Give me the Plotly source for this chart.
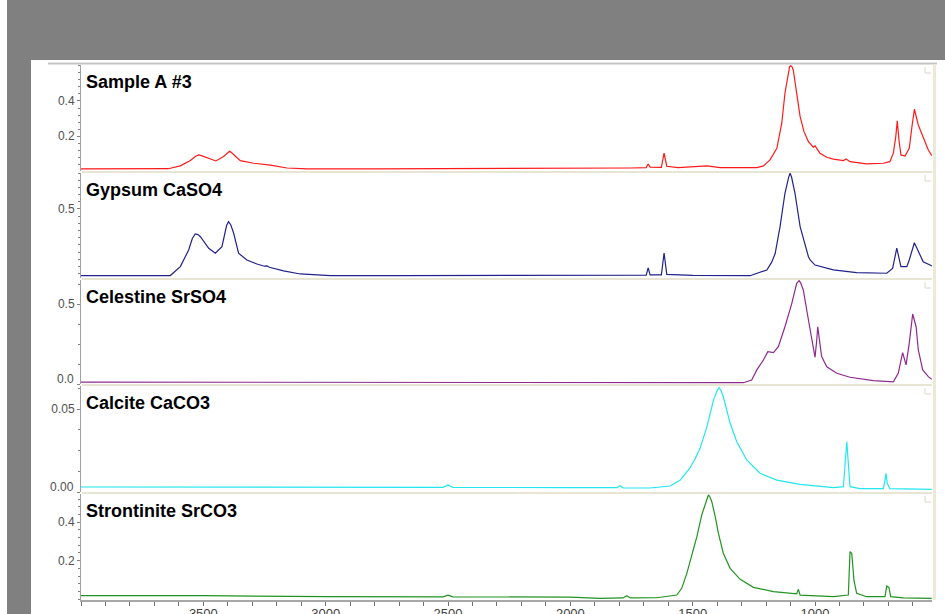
import plotly.graph_objects as go

# ---------------- data ----------------
names = ["Sample A #3", "Gypsum CaSO4", "Celestine SrSO4", "Calcite CaCO3", "Strontinite SrCO3"]
colors = ["#ff1a1a", "#22228c", "#8e2a8e", "#22e6f0", "#229322"]

sample_wn = [4000, 3800, 3643, 3594, 3553, 3530, 3519, 3505, 3485, 3449, 3417, 3400, 3393, 3385,
             3369, 3349, 3294, 3226, 3158, 3077, 2800, 2500, 2200, 1900,
             1750, 1690, 1682, 1674, 1628, 1617, 1606, 1560, 1470, 1442,
             1388, 1238, 1211, 1184, 1156, 1136, 1123, 1109, 1104, 1099, 1094, 1089,
             1075, 1061, 1045, 1027, 1007, 1000, 980, 952, 925, 884,
             873, 857, 789, 721, 694, 680, 670, 664, 657, 649,
             632, 615, 604, 594, 578, 558, 537, 523]
sample_ab = [0.015, 0.015, 0.016, 0.032, 0.062, 0.088, 0.094, 0.089, 0.079, 0.060, 0.085, 0.110, 0.115, 0.108,
             0.085, 0.062, 0.047, 0.036, 0.020, 0.015, 0.015, 0.016, 0.015, 0.017,
             0.020, 0.022, 0.043, 0.025, 0.024, 0.105, 0.030, 0.022, 0.028, 0.032,
             0.022, 0.022, 0.032, 0.066, 0.132, 0.274, 0.444, 0.576, 0.595, 0.600, 0.594, 0.576,
             0.444, 0.311, 0.226, 0.169, 0.138, 0.145, 0.104, 0.081, 0.070, 0.062,
             0.071, 0.056, 0.043, 0.047, 0.056, 0.104, 0.198, 0.287, 0.179, 0.094,
             0.088, 0.132, 0.254, 0.353, 0.264, 0.189, 0.122, 0.090]

gypsum_wn = [4000, 3800, 3635, 3594, 3560, 3545, 3533, 3522, 3512, 3478, 3451, 3424,
             3405, 3397, 3388, 3376, 3356, 3322, 3281, 3250, 3240, 3230, 3172, 3104,
             2981, 2700, 2400, 2100, 1800, 1690, 1682, 1674, 1628, 1617,
             1606, 1500, 1266, 1197, 1177, 1163, 1143, 1123, 1108, 1102, 1096, 1082,
             1061, 1027, 1020, 1000, 925, 830, 707, 683, 666, 657,
             649, 625, 615, 594, 578, 558, 530, 523]
gypsum_ab = [0.036, 0.036, 0.037, 0.099, 0.215, 0.295, 0.326, 0.322, 0.307, 0.227, 0.192, 0.238,
             0.385, 0.412, 0.390, 0.331, 0.192, 0.145, 0.117, 0.102, 0.104, 0.095, 0.069, 0.048,
             0.037, 0.036, 0.037, 0.036, 0.037, 0.040, 0.090, 0.042, 0.042, 0.194,
             0.045, 0.038, 0.036, 0.076, 0.130, 0.190, 0.377, 0.609, 0.720, 0.748, 0.722, 0.609,
             0.377, 0.168, 0.145, 0.110, 0.076, 0.057, 0.053, 0.087, 0.227, 0.145,
             0.099, 0.099, 0.145, 0.265, 0.203, 0.133, 0.110, 0.103]

celestine_wn = [4000, 3500, 3000, 2500, 2000, 1500, 1293, 1259, 1238, 1211,
                1193, 1170, 1150, 1123, 1095, 1075, 1070, 1065, 1059, 1048, 1027, 1007,
                1000, 993, 989, 982, 973, 952, 911, 857, 762, 680,
                660, 642, 628, 615, 601, 587, 578, 560, 537, 523]
celestine_ab = [0.012, 0.012, 0.011, 0.012, 0.011, 0.010, 0.008, 0.025, 0.088, 0.150,
                0.202, 0.196, 0.233, 0.358, 0.504, 0.629, 0.641, 0.646, 0.632, 0.588, 0.400, 0.2125,
                0.167, 0.275, 0.358, 0.275, 0.171, 0.108, 0.067, 0.042, 0.021, 0.014,
                0.067, 0.196, 0.119, 0.254, 0.4375, 0.358, 0.2125, 0.0875, 0.046, 0.029]

calcite_wn = [4000, 3500, 3000, 2520, 2500, 2480, 2000, 1810, 1797, 1785,
              1674, 1592, 1551, 1511, 1490, 1470, 1442, 1415, 1400, 1392, 1385, 1375,
              1347, 1320, 1279, 1225, 1156, 1061, 925, 884, 876, 870,
              865, 857, 816, 721, 714, 710, 705, 694, 523]
calcite_ab = [0.0030, 0.0030, 0.0028, 0.0028, 0.0042, 0.0028, 0.0026, 0.0026, 0.0038, 0.0025,
              0.0024, 0.0036, 0.0072, 0.0145, 0.0200, 0.0263, 0.0393, 0.0554, 0.0612, 0.0628, 0.0615, 0.0574,
              0.0414, 0.0303, 0.0193, 0.0113, 0.0072, 0.0046, 0.0026, 0.0032, 0.0193, 0.0303,
              0.0193, 0.0032, 0.0020, 0.0020, 0.0072, 0.0113, 0.0052, 0.0020, 0.0016]

stront_wn = [4000, 3500, 3000, 2520, 2500, 2480, 2000, 1878, 1785, 1769,
             1755, 1647, 1565, 1545, 1524, 1504, 1483, 1463, 1445, 1441, 1436, 1430,
             1422, 1408, 1395, 1375, 1347, 1306, 1252, 1170, 1075, 1068,
             1061, 925, 864, 857, 850, 841, 830, 789, 714, 707,
             698, 691, 639, 523]
stront_ab = [0.018, 0.018, 0.013, 0.012, 0.020, 0.012, 0.010, 0.004, 0.006, 0.018,
             0.006, 0.007, 0.021, 0.056, 0.134, 0.221, 0.325, 0.438, 0.507, 0.532, 0.542, 0.533,
             0.507, 0.429, 0.343, 0.239, 0.160, 0.103, 0.061, 0.039, 0.027, 0.051,
             0.021, 0.0125, 0.021, 0.247, 0.239, 0.099, 0.030, 0.0125, 0.0125, 0.068,
             0.061, 0.0125, 0.006, 0.004]

series_wn = [sample_wn, gypsum_wn, celestine_wn, calcite_wn, stront_wn]
series_ab = [sample_ab, gypsum_ab, celestine_ab, calcite_ab, stront_ab]

y_ranges = [[0.003, 0.604], [0.02, 0.750], [0.0, 0.65], [0.0, 0.0639], [-0.0047, 0.547]]
y_tickvals = [[0.2, 0.4], [0.5], [0.0, 0.5], [0.0, 0.05], [0.2, 0.4]]
y_ticktext = [["0.2", "0.4"], ["0.5"], ["", "0.5"], ["", "0.05"], ["0.2", "0.4"]]
y_minor = [0.04, 0.05, 0.125, 0.0125, 0.04]
bottom_labels = [None, None, ("0.0", 0.031), ("0.00", 0.0032), None]

x_range = [4000, 522]
x_tickvals = [3500, 3000, 2500, 2000, 1500, 1000]
x_ticktext = ["3500", "3000", "2500", "2000", "1500", "1000"]

# ---------------- layout geometry (pixels) ----------------
W, H = 945, 614
L, R, T, B = 81, 932, 65, 600
panels_px = [(65, 171), (173, 278), (280, 384), (386, 492), (494, 600)]

def fx(px):
    return (px - L) / (R - L)

def fy(py):
    return (B - py) / (B - T)

fig = go.Figure()
FONT = "Liberation Sans, Arial, sans-serif"

for i in range(5):
    yname = "y" if i == 0 else f"y{i+1}"
    fig.add_trace(go.Scatter(x=series_wn[i], y=series_ab[i], mode="lines",
                             line=dict(color=colors[i], width=1.2),
                             xaxis="x", yaxis=yname, showlegend=False,
                             hoverinfo="skip"))

layout = dict(
    width=W, height=H,
    margin=dict(l=L, r=W - R, t=T, b=H - B, autoexpand=False),
    paper_bgcolor="#808080", plot_bgcolor="white",
    template="none", showlegend=False,
    font=dict(family=FONT),
)

layout["xaxis"] = dict(
    range=x_range, anchor="y5", domain=[0, 1],
    tickmode="array", tickvals=x_tickvals, ticktext=x_ticktext,
    ticks="outside", ticklen=4, tickcolor="#707070",
    minor=dict(dtick=100, tick0=0, ticks="outside", ticklen=4, tickcolor="#707070"),
    showline=True, linecolor="#a8a8a8", linewidth=2,
    showgrid=False, zeroline=False, automargin=False,
    ticklabelstandoff=-4,
    tickfont=dict(size=13, color="#404040", family=FONT),
)

shapes = []
annotations = []
for i in range(5):
    top, bot = panels_px[i]
    key = "yaxis" if i == 0 else f"yaxis{i+1}"
    layout[key] = dict(
        domain=[fy(bot), fy(top)], range=y_ranges[i], anchor="x",
        tickmode="array", tickvals=y_tickvals[i], ticktext=y_ticktext[i],
        ticks="outside", ticklen=3, tickcolor="#808080",
        minor=dict(dtick=y_minor[i], tick0=0, ticks="outside", ticklen=2,
                   tickcolor="#808080"),
        showline=True, linecolor="#a0a0a0", linewidth=1,
        showgrid=False, zeroline=False, automargin=False,
        tickfont=dict(size=12, color="#505050", family=FONT),
    )
    ydom = ("y" if i == 0 else f"y{i+1}") + " domain"
    annotations.append(dict(text="<b>" + names[i] + "</b>", xref="paper", x=0,
                            xanchor="left", xshift=3, yref=ydom, y=1,
                            yanchor="middle", yshift=-16.5, showarrow=False,
                            font=dict(size=18, color="black", family=FONT)))
    if bottom_labels[i]:
        txt, yv = bottom_labels[i]
        annotations.append(dict(text=txt, xref="paper", x=0, xanchor="right",
                                xshift=-5, yref=("y" if i == 0 else f"y{i+1}"), y=yv,
                                yanchor="middle", showarrow=False,
                                font=dict(size=12, color="#505050", family=FONT)))
    # corner mark at the panel's top right
    shapes.append(dict(type="path", xref="paper", yref="paper",
                       path=f"M {fx(925)} {fy(top + 2)} L {fx(925)} {fy(top + 8)} L {fx(931)} {fy(top + 8)}",
                       line=dict(color="#dcd8c8", width=1)))

# white page areas over the grey background
shapes.insert(0, dict(type="rect", xref="paper", yref="paper", layer="below",
                      x0=fx(31), x1=fx(W + 2), y0=fy(H + 2), y1=fy(60),
                      fillcolor="white", line=dict(width=0)))
shapes.insert(0, dict(type="rect", xref="paper", yref="paper", layer="below",
                      x0=fx(-2), x1=fx(7), y0=fy(H + 2), y1=fy(-2),
                      fillcolor="white", line=dict(width=0)))
# top frame line
shapes.append(dict(type="line", xref="paper", yref="paper",
                   x0=fx(48), x1=fx(937), y0=fy(63.5), y1=fy(63.5),
                   line=dict(color="#c4c4c4", width=2)))
# right beige strip
shapes.append(dict(type="rect", xref="paper", yref="paper",
                   x0=fx(933), x1=fx(936), y0=fy(600), y1=fy(64),
                   fillcolor="#ece9d8", line=dict(width=0)))
# separators between panels
for i in range(4):
    bot = panels_px[i][1]
    nxt = panels_px[i + 1][0]
    shapes.append(dict(type="rect", xref="paper", yref="paper",
                       x0=fx(82), x1=fx(932), y0=fy(nxt), y1=fy(bot),
                       fillcolor="#e8e5d5", line=dict(width=0)))

layout["shapes"] = shapes
layout["annotations"] = annotations
fig.update_layout(**layout)

fig.write_html("out.html", config={"displayModeBar": False},
               post_script="document.body.style.margin='0px';document.body.style.padding='0px';")
